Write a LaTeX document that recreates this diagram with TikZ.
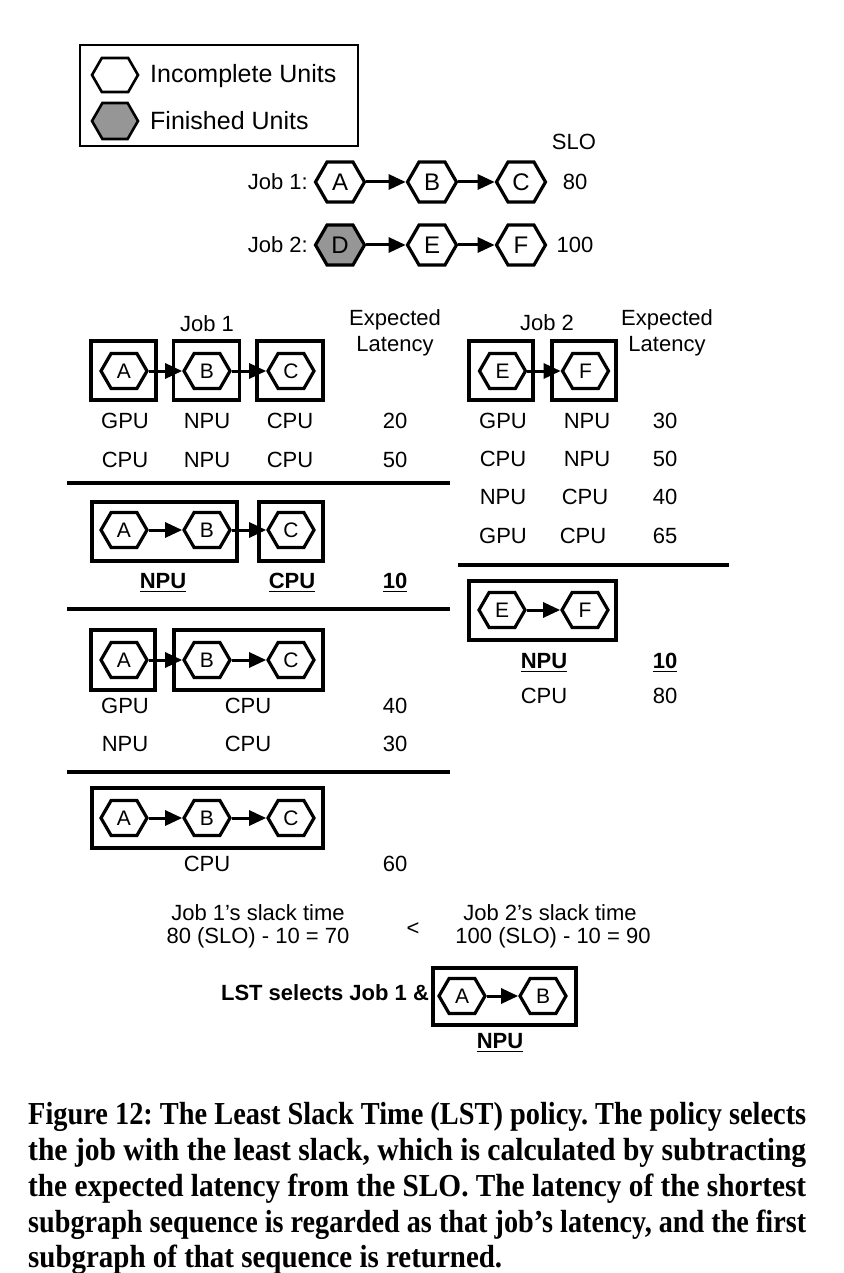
\documentclass[tikz,border=0pt]{standalone}
\usepackage{fontspec}
\setmainfont{Liberation Serif}
\setsansfont{Liberation Sans}
\usetikzlibrary{shapes.symbols,arrows.meta}
\definecolor{finished}{RGB}{150,150,150}
\newcommand\myul[1]{\setbox0\hbox{#1}\rlap{\rule[-3.5pt]{\wd0}{1.6pt}}\box0}
\frenchspacing
\begin{document}
\begin{tikzpicture}[x=1pt,y=-1pt,
 hexb/.style={signal, signal to=west and east, signal pointer angle=120, draw, line width=3.2pt, fill=white, minimum width=46pt, minimum height=35pt, inner sep=0pt, font=\sffamily\fontsize{21}{21}\selectfont},
 hexl/.style={hexb, minimum width=49pt, minimum height=40pt, font=\sffamily\fontsize{24}{24}\selectfont},
 boxn/.style={draw, line width=3.2pt, rectangle, inner sep=0pt, minimum height=59pt},
 arr/.style={-{Triangle[length=17pt,width=15pt]}, line width=3pt},
 lbl/.style={font=\sffamily\fontsize{22}{22}\selectfont, inner sep=0pt, text height=15.8pt, text depth=0pt},
 blbl/.style={lbl, font=\sffamily\bfseries\fontsize{22}{22}\selectfont},
 sepline/.style={line width=3.2pt},
 capline/.style={font=\bfseries\fontsize{32}{36}\selectfont, inner sep=0pt, anchor=base west}
]
\path[use as bounding box, fill=white] (0,0) rectangle (843,1273);

% legend
\node[draw, line width=2.2pt, minimum width=278pt, minimum height=101pt, inner sep=0pt] (legend) at (219,95.5) {};
\node[hexb, line width=2.6pt, minimum width=46pt, minimum height=34pt] (lgI) at (115,75) {};
\node[hexb, line width=2.6pt, fill=finished, minimum width=46pt, minimum height=36pt] (lgF) at (115,121) {};
\node[lbl, font=\sffamily\fontsize{25}{25}\selectfont, text height=18pt, anchor=west] (lgIt) at (150,74) {Incomplete Units};
\node[lbl, font=\sffamily\fontsize{25}{25}\selectfont, text height=18pt, anchor=west] (lgFt) at (150,121) {Finished Units};

% job rows
\node[lbl] (slo) at (574,142) {SLO};
\node[lbl, anchor=east] (j1) at (308,182) {Job 1:};
\node[hexl] (tA) at (340,182) {A};
\node[hexl] (tB) at (432,182) {B};
\node[hexl] (tC) at (521,182) {C};
\node[lbl] (s1) at (575,182) {80};
\draw[arr] (tA.east) -- (tB.west);
\draw[arr] (tB.east) -- (tC.west);
\node[lbl, anchor=east] (j2) at (308,245) {Job 2:};
\node[hexl, fill=finished] (tD) at (340,245) {D};
\node[hexl] (tE) at (432,245) {E};
\node[hexl] (tF) at (521,245) {F};
\node[lbl] (s2) at (575,245) {100};
\draw[arr] (tD.east) -- (tE.west);
\draw[arr] (tE.east) -- (tF.west);

% Job 1 table header
\node[lbl] (h1) at (207,324) {Job 1};
\node[lbl] (e1) at (395,318) {Expected};
\node[lbl] (l1) at (395,344) {Latency};
\node[boxn, minimum width=65pt] (b1A) at (123.5,370.5) {};
\node[boxn, minimum width=66pt] (b1B) at (206.5,370.5) {};
\node[boxn, minimum width=66pt] (b1C) at (290,370.5) {};
\node[hexb] (p1A) at (124,371) {A};
\node[hexb] (p1B) at (207,371) {B};
\node[hexb] (p1C) at (291,371) {C};
\draw[arr] (p1A.east) -- (p1B.west);
\draw[arr] (p1B.east) -- (p1C.west);
\node[lbl] (r11) at (125,421) {GPU};
\node[lbl] (r12) at (207,421) {NPU};
\node[lbl] (r13) at (290,421) {CPU};
\node[lbl] (r14) at (395,421) {20};
\node[lbl] (r21) at (125,460) {CPU};
\node[lbl] (r22) at (207,460) {NPU};
\node[lbl] (r23) at (290,460) {CPU};
\node[lbl] (r24) at (395,460) {50};
\draw[sepline] (67,483) -- (450,483);

% Job 1 option 2
\node[boxn, minimum width=145pt] (b2AB) at (164.5,531.5) {};
\node[boxn, minimum width=64pt] (b2C) at (291,531.5) {};
\node[hexb] (q1A) at (124,530) {A};
\node[hexb] (q1B) at (207,530) {B};
\node[hexb] (q1C) at (291,530) {C};
\draw[arr] (q1A.east) -- (q1B.west);
\draw[arr] (q1B.east) -- (q1C.west);
\node[blbl] (u1) at (163,581) {\myul{NPU}};
\node[blbl] (u2) at (292,581) {\myul{CPU}};
\node[blbl] (u3) at (395,581) {\myul{10}};
\draw[sepline] (67,609) -- (450,609);

% Job 1 option 3
\node[boxn, minimum width=64pt, minimum height=60pt] (b3A) at (123,660) {};
\node[boxn, minimum width=149pt, minimum height=60pt] (b3BC) at (248.5,660) {};
\node[hexb] (w1A) at (124,660) {A};
\node[hexb] (w1B) at (207,660) {B};
\node[hexb] (w1C) at (291,660) {C};
\draw[arr] (w1A.east) -- (w1B.west);
\draw[arr] (w1B.east) -- (w1C.west);
\node[lbl] (v11) at (125,706) {GPU};
\node[lbl] (v12) at (248,706) {CPU};
\node[lbl] (v13) at (395,706) {40};
\node[lbl] (v21) at (125,744) {NPU};
\node[lbl] (v22) at (248,744) {CPU};
\node[lbl] (v23) at (395,744) {30};
\draw[sepline] (67,772) -- (450,772);

% Job 1 option 4
\node[boxn, minimum width=231pt, minimum height=60pt] (b4ABC) at (207.5,818) {};
\node[hexb] (z1A) at (124,818) {A};
\node[hexb] (z1B) at (207,818) {B};
\node[hexb] (z1C) at (291,818) {C};
\draw[arr] (z1A.east) -- (z1B.west);
\draw[arr] (z1B.east) -- (z1C.west);
\node[lbl] (y1) at (207,864) {CPU};
\node[lbl] (y2) at (395,864) {60};

% Job 2 table
\node[lbl] (h2) at (547,323) {Job 2};
\node[lbl] (e2) at (667,318) {Expected};
\node[lbl] (l2) at (667,344) {Latency};
\node[boxn, minimum width=64pt] (b5E) at (501,370.5) {};
\node[boxn, minimum width=64pt] (b5F) at (584,370.5) {};
\node[hexb] (p2E) at (502.5,371) {E};
\node[hexb] (p2F) at (585.5,371) {F};
\draw[arr] (p2E.east) -- (p2F.west);
\node[lbl] (k11) at (503,421) {GPU};
\node[lbl] (k12) at (587,421) {NPU};
\node[lbl] (k13) at (665,421) {30};
\node[lbl] (k21) at (503,459) {CPU};
\node[lbl] (k22) at (587,459) {NPU};
\node[lbl] (k23) at (665,459) {50};
\node[lbl] (k31) at (503,497) {NPU};
\node[lbl] (k32) at (585,497) {CPU};
\node[lbl] (k33) at (665,497) {40};
\node[lbl] (k41) at (503,536) {GPU};
\node[lbl] (k42) at (583,536) {CPU};
\node[lbl] (k43) at (665,536) {65};
\draw[sepline] (458,565) -- (729,565);

% Job 2 option 2
\node[boxn, minimum width=147pt] (b6EF) at (542.5,610.5) {};
\node[hexb] (q2E) at (502,610) {E};
\node[hexb] (q2F) at (585,610) {F};
\draw[arr] (q2E.east) -- (q2F.west);
\node[blbl] (m1) at (544,661) {\myul{NPU}};
\node[blbl] (m2) at (665,661) {\myul{10}};
\node[lbl] (m3) at (544,696) {CPU};
\node[lbl] (m4) at (665,696) {80};

% slack comparison
\node[lbl] (sl1a) at (258,913) {Job 1’s slack time};
\node[lbl] (sl1b) at (258,936) {80 (SLO) - 10 = 70};
\node[lbl] (lt) at (413,928) {<};
\node[lbl] (sl2a) at (550,913) {Job 2’s slack time};
\node[lbl] (sl2b) at (553,936) {100 (SLO) - 10 = 90};
\node[blbl] (sel) at (325,993) {LST selects Job 1 \&};
\node[boxn, minimum width=143pt, minimum height=57pt] (b7AB) at (504.5,996.5) {};
\node[hexb] (fA) at (462,996) {A};
\node[hexb] (fB) at (543,996) {B};
\draw[arr] (fA.east) -- (fB.west);
\node[blbl] (fn) at (500,1041) {\myul{NPU}};

% caption
\node[capline] (c1) at (28,1124) {\resizebox{778pt}{\height}{Figure 12: The Least Slack Time (LST) policy. The policy selects}};
\node[capline] (c2) at (28,1160) {\resizebox{778pt}{\height}{the job with the least slack, which is calculated by subtracting}};
\node[capline] (c3) at (28,1196) {\resizebox{778pt}{\height}{the expected latency from the SLO. The latency of the shortest}};
\node[capline] (c4) at (28,1232) {\resizebox{778pt}{\height}{subgraph sequence is regarded as that job’s latency, and the first}};
\node[capline] (c5) at (28,1267) {\resizebox{474pt}{\height}{subgraph of that sequence is returned.}};
\end{tikzpicture}
\end{document}
